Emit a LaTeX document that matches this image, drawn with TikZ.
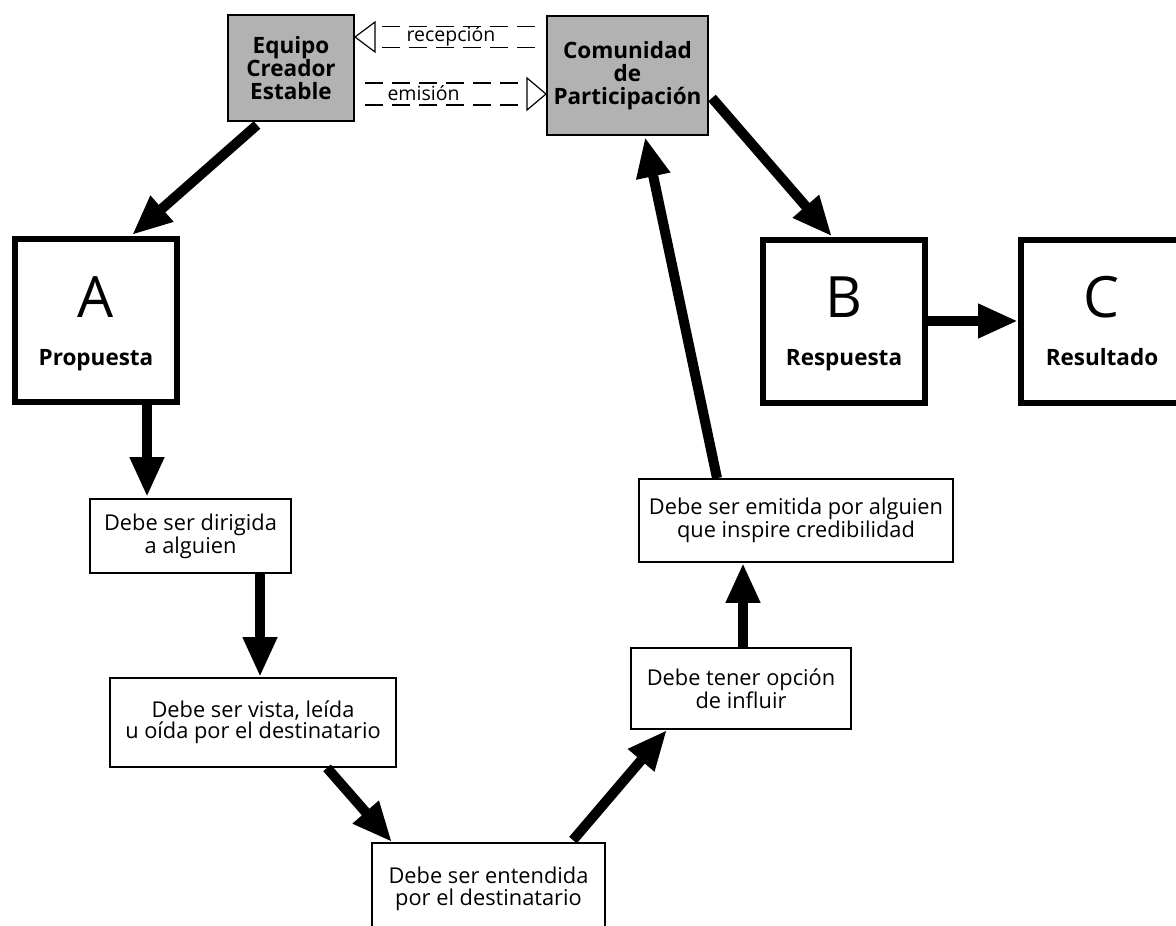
\documentclass[tikz,border=0pt]{standalone}
\usepackage{fontspec}
\setmainfont{Open Sans}
\usetikzlibrary{arrows.meta,calc}
\begin{document}
\begin{tikzpicture}[x=1pt,y=-1pt,
  graybox/.style={draw, line width=2pt, fill=black!30, font=\fontsize{22.5}{23}\selectfont\bfseries, align=center, inner sep=0pt},
  bigbox/.style={draw, line width=6pt, minimum width=162pt, minimum height=163pt, inner sep=0pt},
  stepbox/.style={draw, line width=1.8pt, align=center, font=\fontsize{21.8}{21.5}\selectfont, inner sep=0pt},
  bigletter/.style={font=\fontsize{57}{60}\selectfont, inner sep=0pt, anchor=base},
  boldlabel/.style={font=\fontsize{22.5}{24}\selectfont\bfseries, inner sep=0pt, anchor=base},
  flow/.style={line width=10pt, -{Triangle[length=40pt,width=32pt]}},
  dashline/.style={line width=1.2pt, dash pattern=on 18pt off 9pt},
  hollowhead/.style={line width=1.2pt, fill=white, line join=miter},
  dashlabel/.style={font=\fontsize{19.5}{20}\selectfont, inner sep=0pt}
]
\useasboundingbox (0,0) rectangle (1176,926);

% top boxes
\node[graybox, minimum width=126pt, minimum height=106pt] (equipo) at (291,68) {Equipo\\Creador\\Estable};
\node[graybox, minimum width=161pt, minimum height=119pt] (comunidad) at (627.5,75.5) {Comunidad\\de\\Participación};

% big boxes
\node[bigbox] (A) at (96,320.5) {};
\node[bigletter] (Aletter) at (96,317) {A};
\node[boldlabel] (Alabel) at (96,365) {Propuesta};

\node[bigbox] (B) at (844,321) {};
\node[bigletter] (Bletter) at (844,317) {B};
\node[boldlabel] (Blabel) at (844,365) {Respuesta};

\node[bigbox] (C) at (1102,321) {};
\node[bigletter] (Cletter) at (1101,317) {C};
\node[boldlabel] (Clabel) at (1102,365) {Resultado};

% step boxes
\node[stepbox, minimum width=201pt, minimum height=74pt] (s1) at (190.5,536) {Debe ser dirigida\\a alguien};
\node[stepbox, minimum width=286pt, minimum height=89pt] (s2) at (253,722.5) {Debe ser vista, leída\\u oída por el destinatario};
\node[stepbox, minimum width=233pt, minimum height=92pt] (s3) at (488.5,889) {Debe ser entendida\\por el destinatario};
\node[stepbox, minimum width=220pt, minimum height=81pt] (s4) at (741,688.5) {Debe tener opción\\de influir};
\node[stepbox, minimum width=314pt, minimum height=83pt] (s5) at (796,520.5) {Debe ser emitida por alguien\\que inspire credibilidad};

% flow arrows
\draw[flow] ($(equipo.south)+(-34,3)$) -- ($(A.north)+(36,-1)$);
\draw[flow] ($(A.south)+(51,0)$) -- ($(s1.north)+(-43.5,-1)$);
\draw[flow] ($(s1.south)+(69.5,-1)$) -- ($(s2.north)+(7,0)$);
\draw[flow] ($(s2.south)+(74,0)$) -- ($(s3.north)+(-96.5,0)$);
\draw[flow] ($(s3.north)+(84.5,-2)$) -- ($(s4.south)+(-74,0)$);
\draw[flow] ($(s4.north)+(2,0)$) -- ($(s5.south)+(-53,0)$);
\draw[flow] ($(s5.north)+(-79,0)$) -- ($(comunidad.south)+(17.5,1)$);
\draw[flow] ($(comunidad.east)+(3,22.5)$) -- ($(B.north)+(-12,0)$);
\draw[flow] (B.east) -- (C.west);

% recepcion (hollow dashed arrow to the left)
\coordinate (rtip) at ($(equipo.east)+(0,-31)$);
\coordinate (rstart) at ($(comunidad.west)+(-11,-38.5)$);
\draw[dashline] ($(rstart)+(0,-10.5)$) -- ($(rtip)+(20,-10.5)$);
\draw[dashline] ($(rstart)+(0,10.5)$) -- ($(rtip)+(20,10.5)$);
\draw[hollowhead] (rtip) -- ($(rtip)+(20,-15)$) -- ($(rtip)+(20,15)$) -- cycle;
\node[dashlabel] (rlabel) at ($(rtip)!0.5!(rstart)+(6,-1)$) {recepción};

% emision (hollow dashed arrow to the right)
\coordinate (etip) at ($(comunidad.west)+(0,18.5)$);
\coordinate (estart) at ($(equipo.east)+(10,26)$);
\draw[dashline] ($(estart)+(0,-11)$) -- ($(etip)+(-19,-11)$);
\draw[dashline] ($(estart)+(0,11)$) -- ($(etip)+(-19,11)$);
\draw[hollowhead] (etip) -- ($(etip)+(-19,-16)$) -- ($(etip)+(-19,16)$) -- cycle;
\node[dashlabel] (elabel) at ($(etip)!0.5!(estart)+(-32,-1)$) {emisión};
\end{tikzpicture}
\end{document}
